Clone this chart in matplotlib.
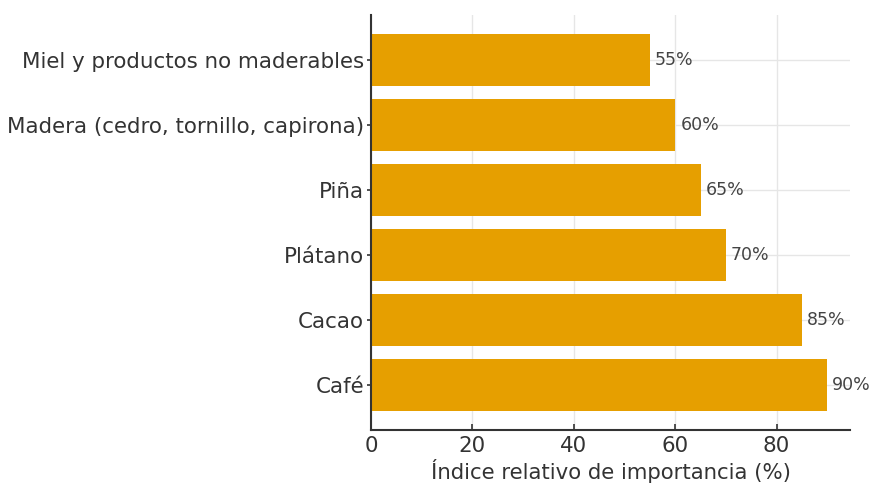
import matplotlib
matplotlib.use("Agg")
import matplotlib.pyplot as plt

plt.rcParams["font.family"] = ["DejaVu Sans"]

categories = ["Café", "Cacao", "Plátano", "Piña",
              "Madera (cedro, tornillo, capirona)",
              "Miel y productos no maderables"]
values = [90, 85, 70, 65, 60, 55]

bar_color = "#E69F00"

fig = plt.figure(figsize=(8.71, 4.87), dpi=100)
ax = fig.add_axes([0.426, 0.118, 0.55, 0.851])

bars = ax.barh(categories, values, height=0.8, color=bar_color, zorder=2)

for rect, v in zip(bars, values):
    ax.text(rect.get_width() + 1, rect.get_y() + rect.get_height() / 2,
            f"{v}%", va="center", ha="left", fontsize=12.5, color="#444444")

ax.set_xlabel("Índice relativo de importancia (%)", fontsize=15.3,
              color="#333333", labelpad=2)
ax.tick_params(axis="y", labelsize=15.4, colors="#333333",
               direction="out", length=3, width=1.2, pad=2)
ax.tick_params(axis="x", labelsize=15.4, colors="#333333",
               direction="in", length=4, width=1.2, pad=5)
ax.grid(True, color="#e6e6e6", linewidth=1.0, linestyle="-", zorder=0)
ax.set_axisbelow(True)
for side in ("top", "right"):
    ax.spines[side].set_visible(False)
for side in ("left", "bottom"):
    ax.spines[side].set_color("#333333")
    ax.spines[side].set_linewidth(1.5)

fig.savefig("out.png", dpi=100)
